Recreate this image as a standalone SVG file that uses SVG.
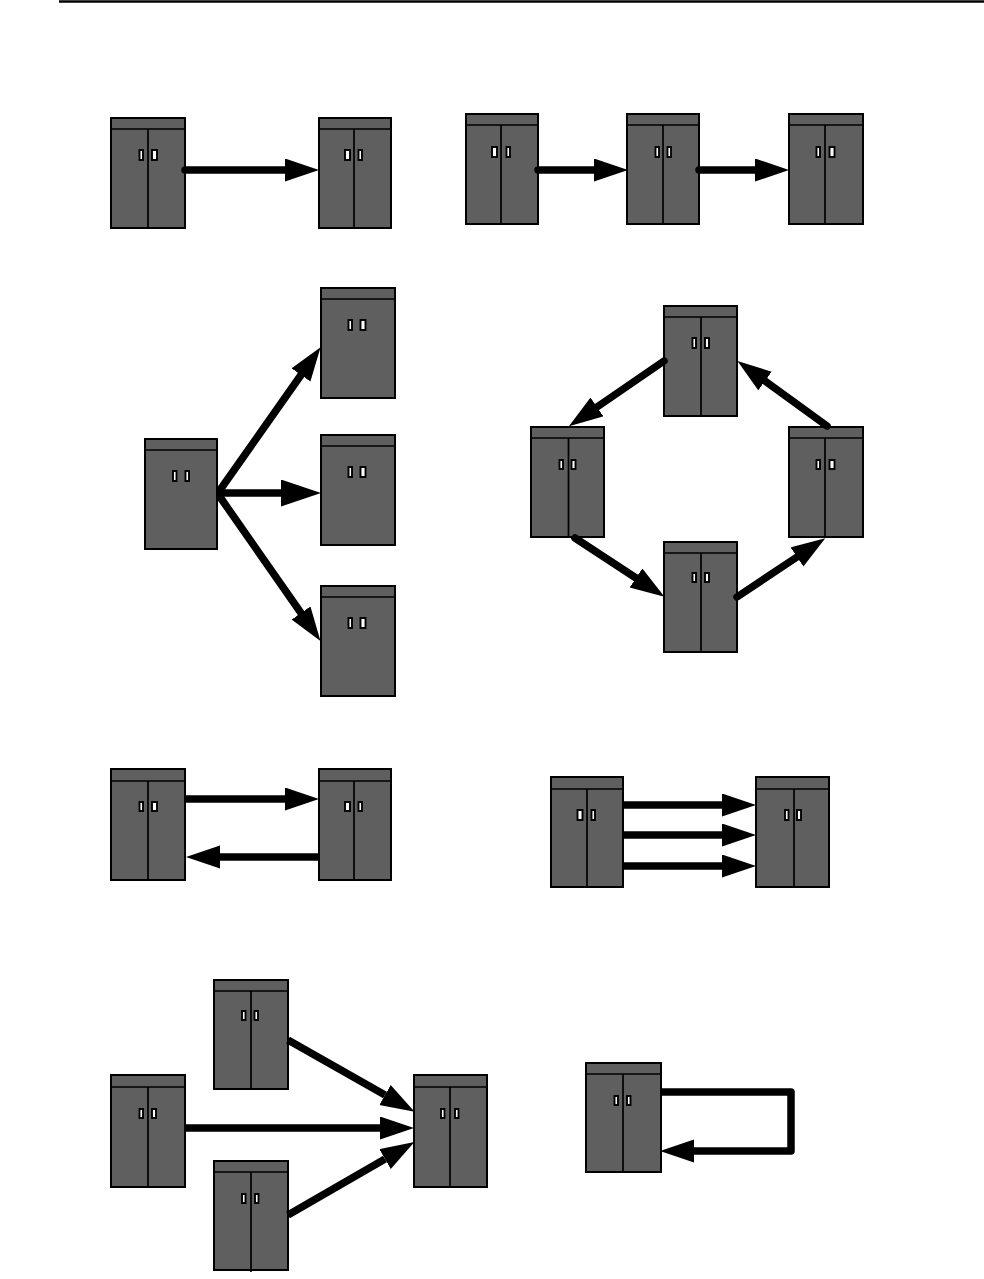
<svg xmlns="http://www.w3.org/2000/svg" width="984" height="1279" viewBox="0 0 984 1279">
<style>
.b{fill:#5f5f5f;stroke:#000;stroke-width:2}
.d{fill:none;stroke:#000;stroke-width:1.7}
.h{fill:#fff;stroke:#000;stroke-width:1.9}
.c{fill:none;stroke:#000;stroke-width:7.500;stroke-linecap:round;stroke-linejoin:round}
.f{stroke-linecap:butt}
.a{marker-end:url(#ah)}
.a2{marker-end:url(#ah2)}
</style>
<defs>
<marker id="ah" markerUnits="userSpaceOnUse" markerWidth="35" markerHeight="24" refX="0" refY="11.500" orient="auto"><path d="M0 0L34 11.500L0 23Z" fill="#000"/></marker>
<marker id="ah2" markerUnits="userSpaceOnUse" markerWidth="41" markerHeight="28" refX="0" refY="13.500" orient="auto"><path d="M0 0L40 13.500L0 27Z" fill="#000"/></marker>
</defs>
<path d="M59 1.500H984" stroke="#000" stroke-width="2.500" fill="none"/>
<g id="n1"><rect class="b" x="111" y="118" width="74" height="110"/><path class="d" d="M111 129H185M148 129V228"/><rect class="h" x="139.500" y="150" width="3.500" height="10"/><rect class="h" x="152" y="150" width="5" height="10"/></g>
<g id="n2"><rect class="b" x="319" y="118" width="72" height="110"/><path class="d" d="M319 129H391M354 129V228"/><rect class="h" x="345" y="150" width="5" height="10"/><rect class="h" x="358.500" y="150" width="3.500" height="10"/></g>
<g id="n3"><rect class="b" x="466" y="114" width="72" height="110"/><path class="d" d="M466 125H538M501 125V224"/><rect class="h" x="492" y="147" width="5" height="10"/><rect class="h" x="506.500" y="147" width="3.500" height="10"/></g>
<g id="n4"><rect class="b" x="627" y="114" width="72" height="110"/><path class="d" d="M627 125H699M663 125V224"/><rect class="h" x="655.500" y="147" width="3.500" height="10"/><rect class="h" x="667.500" y="147" width="3.500" height="10"/></g>
<g id="n5"><rect class="b" x="789" y="114" width="74" height="110"/><path class="d" d="M789 125H863M825 125V224"/><rect class="h" x="816.500" y="147" width="3.500" height="10"/><rect class="h" x="829.500" y="147" width="5" height="10"/></g>
<g id="n6"><rect class="b" x="145" y="439" width="72" height="110"/><path class="d" d="M145 450H217"/><rect class="h" x="173" y="471" width="3.500" height="10"/><rect class="h" x="185.500" y="471" width="3.500" height="10"/></g>
<g id="n7"><rect class="b" x="321" y="288" width="74" height="110"/><path class="d" d="M321 299H395"/><rect class="h" x="348.500" y="320" width="3.500" height="10"/><rect class="h" x="360.500" y="320" width="5" height="10"/></g>
<g id="n8"><rect class="b" x="321" y="435" width="74" height="110"/><path class="d" d="M321 446H395"/><rect class="h" x="348.500" y="467" width="3.500" height="10"/><rect class="h" x="360.500" y="467" width="5" height="10"/></g>
<g id="n9"><rect class="b" x="321" y="586" width="74" height="110"/><path class="d" d="M321 597H395"/><rect class="h" x="348.500" y="618" width="3.500" height="10"/><rect class="h" x="360.500" y="618" width="5" height="10"/></g>
<g id="n10"><rect class="b" x="664" y="306" width="73" height="110"/><path class="d" d="M664 317H737M701 317V416"/><rect class="h" x="692.500" y="338" width="3.500" height="10"/><rect class="h" x="705" y="338" width="4" height="10"/></g>
<g id="n11"><rect class="b" x="531" y="427" width="73" height="110"/><path class="d" d="M531 438H604M568.500 438V537"/><rect class="h" x="559.500" y="460" width="3.500" height="9"/><rect class="h" x="571.500" y="460" width="4" height="9"/></g>
<g id="n12"><rect class="b" x="789" y="427" width="74" height="110"/><path class="d" d="M789 438H863M825 438V537"/><rect class="h" x="816.500" y="460" width="3.500" height="9"/><rect class="h" x="829.500" y="460" width="5" height="9"/></g>
<g id="n13"><rect class="b" x="664" y="542" width="73" height="110"/><path class="d" d="M664 553H737M701 553V652"/><rect class="h" x="692.500" y="573" width="3.500" height="9"/><rect class="h" x="705" y="573" width="4" height="9"/></g>
<g id="n14"><rect class="b" x="111" y="769" width="74" height="111"/><path class="d" d="M111 781H185M148 781V880"/><rect class="h" x="139.500" y="802" width="3.500" height="9"/><rect class="h" x="152" y="802" width="5" height="9"/></g>
<g id="n15"><rect class="b" x="319" y="769" width="72" height="111"/><path class="d" d="M319 781H391M354 781V880"/><rect class="h" x="345" y="802" width="5" height="9"/><rect class="h" x="358.500" y="802" width="3.500" height="9"/></g>
<g id="n16"><rect class="b" x="551" y="777" width="72" height="110"/><path class="d" d="M551 789H623M587 789V887"/><rect class="h" x="577.500" y="810" width="5" height="10"/><rect class="h" x="591.500" y="810" width="3.500" height="10"/></g>
<g id="n17"><rect class="b" x="756" y="777" width="73" height="110"/><path class="d" d="M756 789H829M794 789V887"/><rect class="h" x="785" y="810" width="3.500" height="10"/><rect class="h" x="797" y="810" width="4" height="10"/></g>
<g id="n18"><rect class="b" x="214" y="980" width="74" height="109"/><path class="d" d="M214 991H288M251 991V1089"/><rect class="h" x="242" y="1011" width="3.500" height="9"/><rect class="h" x="254.500" y="1011" width="3.500" height="9"/></g>
<g id="n19"><rect class="b" x="111" y="1075" width="74" height="112"/><path class="d" d="M111 1087H185M148 1087V1187"/><rect class="h" x="139.500" y="1109" width="3.500" height="9"/><rect class="h" x="152" y="1109" width="4" height="9"/></g>
<g id="n20"><rect class="b" x="214" y="1161" width="74" height="109"/><path class="d" d="M214 1172H288M251 1172V1272"/><rect class="h" x="242" y="1194" width="3.500" height="9"/><rect class="h" x="255" y="1194" width="3.500" height="9"/></g>
<g id="n21"><rect class="b" x="414" y="1075" width="73" height="112"/><path class="d" d="M414 1087H487M450 1087V1187"/><rect class="h" x="441" y="1109" width="3.500" height="9"/><rect class="h" x="455" y="1109" width="3.500" height="9"/></g>
<g id="n22"><rect class="b" x="586" y="1063" width="75" height="109"/><path class="d" d="M586 1074H661M623 1074V1172"/><rect class="h" x="614.500" y="1096" width="3.500" height="9"/><rect class="h" x="627" y="1096" width="3.500" height="9"/></g>
<g id="connectors">
<path class="c a" d="M185 170H285"/>
<path class="c a" d="M538 170H594"/>
<path class="c a" d="M699 170H755"/>
<path class="c a" d="M220 490L301 375"/>
<path class="c a2" d="M220 493H281"/>
<path class="c a" d="M220 497L301 613"/>
<path class="c a" d="M664 361L597 407"/>
<path class="c a" d="M575 538L636 578"/>
<path class="c a" d="M737 597L797 557"/>
<path class="c a" d="M827 426L765 381"/>
<path class="c f a" d="M186 799H285"/>
<path class="c f a" d="M319 857H220"/>
<path class="c f a" d="M623 805H722"/>
<path class="c f a" d="M623 835H722"/>
<path class="c f a" d="M623 866H722"/>
<path class="c f a" d="M288 1040L385 1095"/>
<path class="c f a" d="M186 1128H380"/>
<path class="c f a" d="M288 1215L385 1159"/>
<path class="c f a" d="M661 1092H791V1151H694"/>
</g>
</svg>
